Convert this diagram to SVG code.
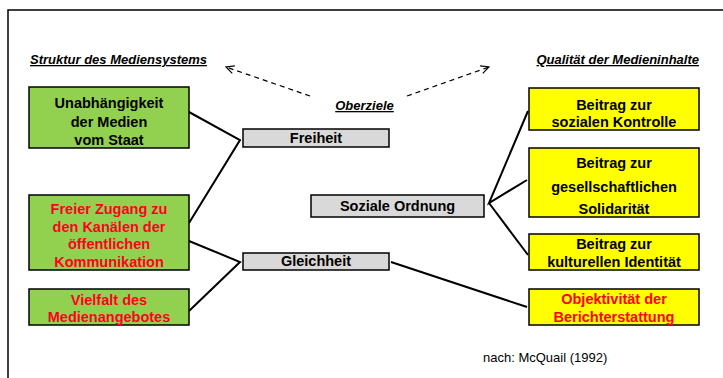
<svg xmlns="http://www.w3.org/2000/svg" width="723" height="378" viewBox="0 0 723 378">
<style>
.t{font-family:"Liberation Sans",Arial,sans-serif;font-weight:bold;font-size:14.5px;text-anchor:middle}
.k{fill:#000}
.r{fill:#ff0022}
.h{font-family:"Liberation Sans",Arial,sans-serif;font-weight:bold;font-style:italic;font-size:13px;text-decoration:underline}
.g{fill:#92d050;stroke:#000;stroke-width:1.5}
.y{fill:#ffff00;stroke:#000;stroke-width:1.5}
.gr{fill:#d9d9d9;stroke:#000;stroke-width:1.5}
.c{fill:none;stroke:#000;stroke-width:2}
.d{fill:none;stroke:#000;stroke-width:1.2;stroke-dasharray:5,4}
</style>
<defs>
<marker id="arr" viewBox="0 0 10 10" refX="9" refY="5" markerWidth="10" markerHeight="10" markerUnits="userSpaceOnUse" orient="auto">
<path d="M1,1 L9,5 L1,9" fill="none" stroke="#000" stroke-width="1.2"/>
</marker>
</defs>
<rect width="723" height="378" fill="#fff"/>
<path d="M8,378 L8,10 L723,10" fill="none" stroke="#000" stroke-width="1.5"/>
<text class="h" x="30" y="64">Struktur des Mediensystems</text>
<text class="h" x="699" y="64" text-anchor="end">Qualität der Medieninhalte</text>
<text class="h" x="364.5" y="110" text-anchor="middle">Oberziele</text>
<g id="connectors">
<path class="d" d="M310,96 L226,67" marker-end="url(#arr)"/>
<path class="d" d="M407,96 L489,67" marker-end="url(#arr)"/>
<path class="c" d="M189,112 L240,140 L189,223"/>
<path class="c" d="M189,241 L240,262 L189,311"/>
<path class="c" d="M528,111 L489,203 L527,180"/>
<path class="c" d="M489,203 L528,255"/>
<path class="c" d="M391,262 L527,307"/>
</g>
<g id="n1"><rect class="g" x="29" y="87" width="160" height="61"/>
<text class="t k" x="109" y="108">Unabhängigkeit</text><text class="t k" x="109" y="127">der Medien</text><text class="t k" x="109" y="145">vom Staat</text></g>
<g id="n2"><rect class="g" x="29" y="195" width="160" height="75"/>
<text class="t r" x="109" y="214">Freier Zugang zu</text><text class="t r" x="109" y="232">den Kanälen der</text><text class="t r" x="109" y="249">öffentlichen</text><text class="t r" x="109" y="267">Kommunikation</text></g>
<g id="n3"><rect class="g" x="29" y="289" width="160" height="36"/>
<text class="t r" x="109" y="305">Vielfalt des</text><text class="t r" x="109" y="322">Medienangebotes</text></g>
<g id="freiheit"><rect class="gr" x="243" y="129" width="146" height="18"/>
<text class="t k" x="316" y="143">Freiheit</text></g>
<g id="gleichheit"><rect class="gr" x="243" y="253" width="146" height="17"/>
<text class="t k" x="316" y="266">Gleichheit</text></g>
<g id="soziale"><rect class="gr" x="311" y="195" width="173" height="22"/>
<text class="t k" x="397.5" y="211">Soziale Ordnung</text></g>
<g id="y1"><rect class="y" x="529" y="88" width="170" height="42"/>
<text class="t k" x="614" y="110">Beitrag zur</text><text class="t k" x="614" y="127">sozialen Kontrolle</text></g>
<g id="y2"><rect class="y" x="529" y="148" width="170" height="69"/>
<text class="t k" x="614" y="168">Beitrag zur</text><text class="t k" x="614" y="192">gesellschaftlichen</text><text class="t k" x="614" y="214">Solidarität</text></g>
<g id="y3"><rect class="y" x="529" y="234" width="170" height="36"/>
<text class="t k" x="614" y="249">Beitrag zur</text><text class="t k" x="614" y="267">kulturellen Identität</text></g>
<g id="y4"><rect class="y" x="529" y="289" width="170" height="36"/>
<text class="t r" x="614" y="304">Objektivität der</text><text class="t r" x="614" y="322">Berichterstattung</text></g>
<text x="483" y="362" font-family="Liberation Sans,Arial,sans-serif" font-size="13" fill="#000">nach: McQuail (1992)</text>
</svg>
